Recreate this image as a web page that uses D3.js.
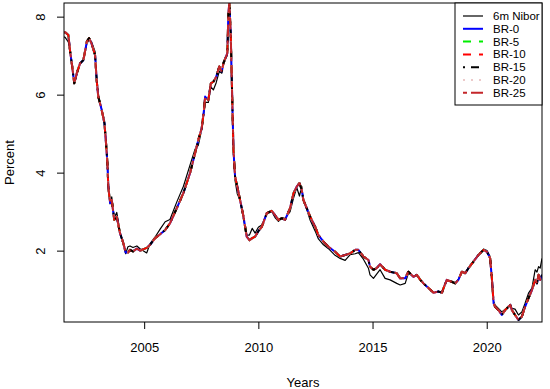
<!DOCTYPE html>
<html><head><meta charset="utf-8">
<script src="https://cdn.jsdelivr.net/npm/d3@7"></script>
<style>body{margin:0;background:#fff}svg{display:block;font-family:"Liberation Sans",Arial,sans-serif}</style>
</head><body>
<script>
// ---- data ----
const years = [2001.49,2001.54,2001.68,2001.75,2001.85,2001.94,2002.05,2002.19,2002.34,2002.49,2002.59,2002.70,2002.85,2002.92,2002.99,2003.14,2003.26,2003.32,2003.39,2003.43,2003.51,2003.58,2003.69,2003.80,2003.94,2004.09,2004.19,2004.29,2004.38,2004.51,2004.68,2004.82,2005.11,2005.26,2005.48,2005.70,2005.92,2006.13,2006.43,2006.72,2007.01,2007.23,2007.37,2007.52,2007.62,2007.67,2007.81,2007.92,2008.03,2008.15,2008.29,2008.40,2008.47,2008.64,2008.69,2008.73,2008.79,2008.84,2008.91,2008.98,2009.08,2009.20,2009.35,2009.49,2009.61,2009.73,2009.86,2010.00,2010.15,2010.37,2010.59,2010.73,2010.88,2011.03,2011.17,2011.39,2011.54,2011.68,2011.80,2011.90,2011.97,2012.12,2012.27,2012.49,2012.63,2012.85,2013.07,2013.36,2013.58,2013.80,2014.02,2014.24,2014.38,2014.60,2014.82,2014.89,2015.04,2015.18,2015.33,2015.55,2015.77,2016.06,2016.21,2016.43,2016.57,2016.79,2016.94,2017.09,2017.23,2017.45,2017.67,2017.89,2018.04,2018.11,2018.25,2018.47,2018.62,2018.76,2018.91,2019.06,2019.20,2019.42,2019.64,2019.86,2020.01,2020.15,2020.23,2020.30,2020.37,2020.51,2020.66,2020.81,2020.95,2021.03,2021.10,2021.24,2021.39,2021.54,2021.68,2021.83,2021.98,2022.12,2022.20,2022.27,2022.34,2022.42];

const nibor = [7.48,7.47,7.35,7.10,6.70,6.29,6.50,6.78,6.88,7.30,7.42,7.35,7.10,6.45,6.00,5.62,5.35,4.90,4.28,3.70,3.20,3.38,2.85,2.98,2.50,2.15,1.92,2.10,2.12,2.08,2.12,2.05,1.94,2.18,2.35,2.55,2.74,2.80,3.25,3.65,4.20,4.60,4.70,5.10,5.55,5.80,5.80,6.20,6.12,6.30,6.60,6.55,6.85,7.00,7.90,8.30,7.50,6.20,4.50,3.80,3.45,3.30,2.80,2.40,2.40,2.57,2.45,2.60,2.66,2.95,3.00,2.85,2.75,2.85,2.82,3.00,3.35,3.62,3.40,3.65,3.30,3.05,2.78,2.50,2.30,2.15,2.05,1.88,1.80,1.75,1.90,1.92,1.95,1.78,1.55,1.38,1.29,1.40,1.51,1.29,1.25,1.16,1.12,1.16,1.42,1.33,1.36,1.25,1.15,1.04,0.92,0.96,0.93,1.05,1.24,1.22,1.18,1.27,1.45,1.44,1.57,1.74,1.90,2.04,2.00,1.85,1.30,0.70,0.60,0.52,0.43,0.50,0.56,0.61,0.52,0.50,0.35,0.43,0.65,0.91,1.04,1.51,1.45,1.59,1.55,1.80];

// BR forecasts (all horizons coincide visually in the reference)
const brValues = [7.60,7.60,7.53,7.15,6.72,6.29,6.55,6.80,6.89,7.36,7.45,7.30,7.02,6.38,5.95,5.61,5.27,4.84,4.25,3.64,3.22,3.30,2.79,2.87,2.45,2.19,1.95,1.95,2.02,1.98,2.05,2.00,2.07,2.15,2.32,2.42,2.53,2.70,3.09,3.48,3.99,4.50,4.84,5.14,5.61,5.95,5.86,6.29,6.33,6.45,6.72,6.59,6.80,7.06,8.10,8.35,7.57,6.29,4.58,3.90,3.64,3.30,2.87,2.36,2.27,2.32,2.36,2.50,2.61,2.96,3.02,2.91,2.79,2.83,2.79,3.09,3.47,3.64,3.73,3.56,3.30,3.09,2.87,2.61,2.40,2.23,2.10,1.97,1.85,1.89,1.93,2.02,2.02,1.85,1.76,1.59,1.51,1.55,1.65,1.51,1.46,1.42,1.29,1.29,1.46,1.33,1.38,1.25,1.16,1.04,0.92,0.95,0.92,1.04,1.25,1.20,1.16,1.25,1.46,1.42,1.55,1.72,1.89,2.02,1.97,1.80,1.25,0.65,0.56,0.48,0.35,0.48,0.56,0.61,0.48,0.35,0.22,0.31,0.56,0.78,0.99,1.25,1.16,1.38,1.25,1.38];

const seriesNames = ["6m Nibor","BR-0","BR-5","BR-10","BR-15","BR-20","BR-25"];
const seriesValues = [nibor, brValues, brValues, brValues, brValues, brValues, brValues];
const xTicks = [2005, 2010, 2015, 2020];
const yTicks = [2, 4, 6, 8];

// ---- styles ----
const styles = [
  {color:"#000000", width:1.2, dash:null},
  {color:"#0000ff", width:2, dash:null},
  {color:"#00ee00", width:2, dash:"8,8"},
  {color:"#ff0000", width:2, dash:"8,8"},
  {color:"#000000", width:2, dash:"2,6,8,6"},
  {color:"#eccaca", width:2, dash:"2,6"},
  {color:"#c4262a", width:2, dash:"4,4,12,4"}
];

const W = 550, H = 389;
const L = 64, R = 542, T = 3, B = 322;
const svg = d3.select("body").append("svg").attr("width", W).attr("height", H);

const x = d3.scaleLinear().domain([2001.49, 2022.42]).range([L, R]);
const y = d3.scaleLinear().domain([0.17, 8.35]).range([B, T]);

svg.append("defs").append("clipPath").attr("id","clip")
  .append("rect").attr("x", L).attr("y", T).attr("width", R-L).attr("height", B-T);

const g = svg.append("g").attr("clip-path","url(#clip)");
const line = d3.line().x((d,i)=>x(years[i])).y(d=>y(d));
seriesValues.forEach((vals, k) => {
  const s = styles[k];
  g.append("path").datum(vals).attr("d", line)
    .attr("fill","none").attr("stroke", s.color).attr("stroke-width", s.width)
    .attr("stroke-dasharray", s.dash).attr("stroke-linejoin","round");
});

// frame
svg.append("rect").attr("x", L).attr("y", T).attr("width", R-L).attr("height", B-T)
  .attr("fill","none").attr("stroke","#000").attr("stroke-width",1);

// x axis
const xa = svg.append("g").attr("transform", `translate(0,${B})`)
  .call(d3.axisBottom(x).tickValues(xTicks).tickFormat(d3.format("d")).tickSize(7).tickSizeOuter(0));
xa.select(".domain").remove();
xa.selectAll("text").attr("font-size", 13).attr("font-family", '"Liberation Sans",Arial,sans-serif').attr("dy", "1.55em").attr("fill","#000");
xa.selectAll("line").attr("stroke","#000");

// y axis
const ya = svg.append("g").attr("transform", `translate(${L},0)`)
  .call(d3.axisLeft(y).tickValues(yTicks).tickFormat(d3.format("d")).tickSize(7).tickSizeOuter(0));
ya.select(".domain").remove();
ya.selectAll("line").attr("stroke","#000");
ya.selectAll("text").remove();
ya.selectAll(".tick").append("text")
  .attr("transform","translate(-19,0) rotate(-90)")
  .attr("text-anchor","middle").attr("font-size",13).attr("fill","#000")
  .attr("font-family",'"Liberation Sans",Arial,sans-serif')
  .text(d=>d);

// axis titles
svg.append("text").attr("x", (L+R)/2).attr("y", 387).attr("text-anchor","middle")
  .attr("font-size", 13).text("Years");
svg.append("text").attr("transform", `translate(14,${(T+B)/2}) rotate(-90)`)
  .attr("text-anchor","middle").attr("font-size", 13).text("Percent");

// legend
const lg = svg.append("g");
lg.append("rect").attr("x", 455).attr("y", T).attr("width", R-455).attr("height", 102)
  .attr("fill","#fff").attr("stroke","#000").attr("stroke-width",1);
seriesNames.forEach((name, k) => {
  const s = styles[k];
  const yy = 16 + k*12.8;
  lg.append("line").attr("x1", 463).attr("x2", 483).attr("y1", yy).attr("y2", yy)
    .attr("stroke", s.color).attr("stroke-width", s.width).attr("stroke-dasharray", s.dash);
  lg.append("text").attr("x", 493).attr("y", yy).attr("dy","0.35em")
    .attr("font-size", 11.5).text(name);
});
</script>
</body></html>
